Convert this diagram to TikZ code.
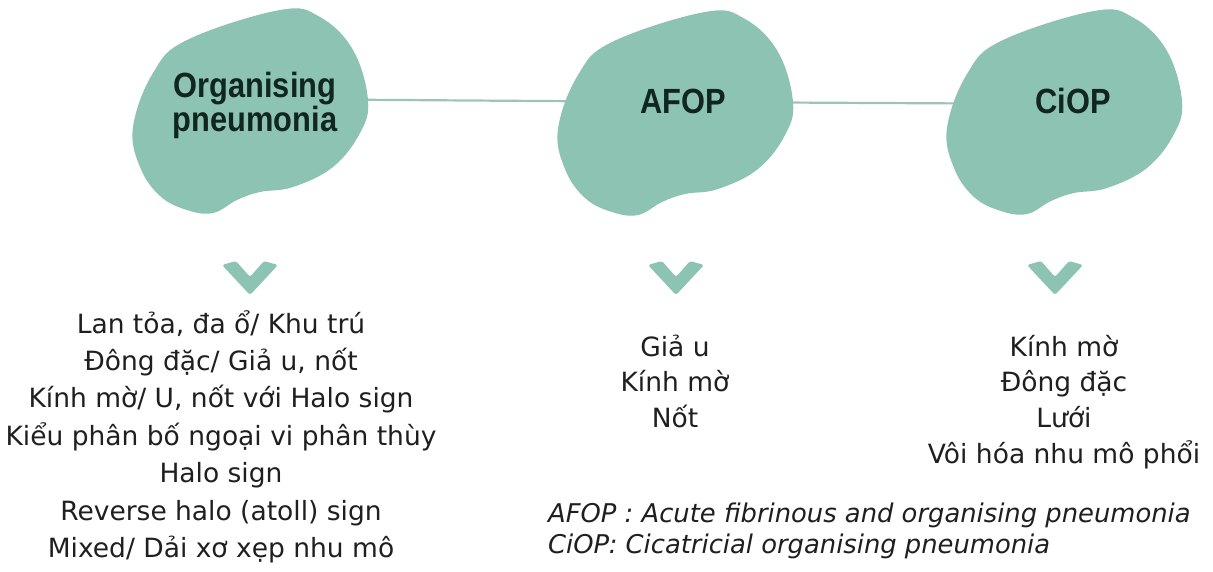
\documentclass[tikz,border=0pt]{standalone}
\usepackage{fontspec}
\setmainfont{DejaVu Sans}
\newfontfamily\headfont[FakeStretch=0.88]{Liberation Sans}
\usepackage{xcolor}
\usepackage{tikz}
\usetikzlibrary{positioning, backgrounds}

\definecolor{blobgreen}{HTML}{8DC3B2}
\definecolor{linkgreen}{HTML}{9DC4B7}
\definecolor{headink}{HTML}{10261F}
\definecolor{bodyink}{HTML}{1F1F1F}

\begin{document}
\begin{tikzpicture}[x=1pt, y=-1pt]
    % Styles
    \tikzstyle{head} = [inner sep=0pt, align=center, text=headink, font={\headfont\bfseries\fontsize{35}{34}\selectfont\lineskiplimit=-30pt}]
    \tikzstyle{item} = [inner sep=0pt, anchor=base, text=bodyink, font=\fontsize{26.5}{32}\selectfont]
    \tikzstyle{note} = [inner sep=0pt, anchor=base west, text=bodyink, font=\itshape\fontsize{25.8}{31}\selectfont]
    \tikzstyle{link} = [draw=linkgreen, line width=2.2pt]
    \tikzset{chevron/.pic={\fill[blobgreen, rounded corners=2.5pt] (-28,-12) -- (-14,-16) -- (0,0) -- (14,-16) -- (28,-12) -- (0,18) -- cycle;}}

    \useasboundingbox (0,0) rectangle (1213,571);

    % Titles
    \node[head] (op) at (255,105) {Organising\\pneumonia};
    \node[head] (afop) at (683,101) {AFOP};
    \node[head] (ciop) at (1073,101) {CiOP};

    % Blobs and link, behind the titles
    \begin{pgfonlayer}{background}
        \fill[white] (0,0) rectangle (1213,571);
        \draw[link] ([yshift=6pt]op.center) -- ([yshift=-1pt]afop.center) -- ([yshift=-3pt]ciop.center);
        \foreach \cx/\cy in {250/111, 675/113, 1064/112}
            \fill[blobgreen, shift={(\cx,\cy)}] plot[smooth cycle, tension=0.65] coordinates {(30,-101) (70,-94) (103,-61) (118,-11) (110,22) (83,56) (43,76) (10,81) (-13,89) (-37,102) (-63,99) (-90,85) (-110,56) (-117,16) (-97,-38) (-63,-71)};
    \end{pgfonlayer}

    % Chevrons
    \pic at (250,277) {chevron};
    \pic at (676,277) {chevron};
    \pic at (1055,277) {chevron};

    % Lists
    \foreach \t [count=\i] in {{Lan tỏa, đa ổ/ Khu trú}, {Đông đặc/ Giả u, nốt}, {Kính mờ/ U, nốt với Halo sign}, {Kiểu phân bố ngoại vi phân thùy}, {Halo sign}, {Reverse halo (atoll) sign}, {Mixed/ Dải xơ xẹp nhu mô}}
        \node[item] (op-\i) at (221, {333+37.4*(\i-1)}) {\t};
    \foreach \t [count=\i] in {Giả u, Kính mờ, Nốt}
        \node[item] (afop-\i) at (675, {356+35.7*(\i-1)}) {\t};
    \foreach \t [count=\i] in {Kính mờ, Đông đặc, Lưới, Vôi hóa nhu mô phổi}
        \node[item] (ciop-\i) at (1064, {356+35.7*(\i-1)}) {\t};

    % Legend
    \node[note] (note-afop) at (548,522) {AFOP : Acute fibrinous and organising pneumonia};
    \node[note] (note-ciop) at (548,553) {CiOP: Cicatricial organising pneumonia};
\end{tikzpicture}
\end{document}
